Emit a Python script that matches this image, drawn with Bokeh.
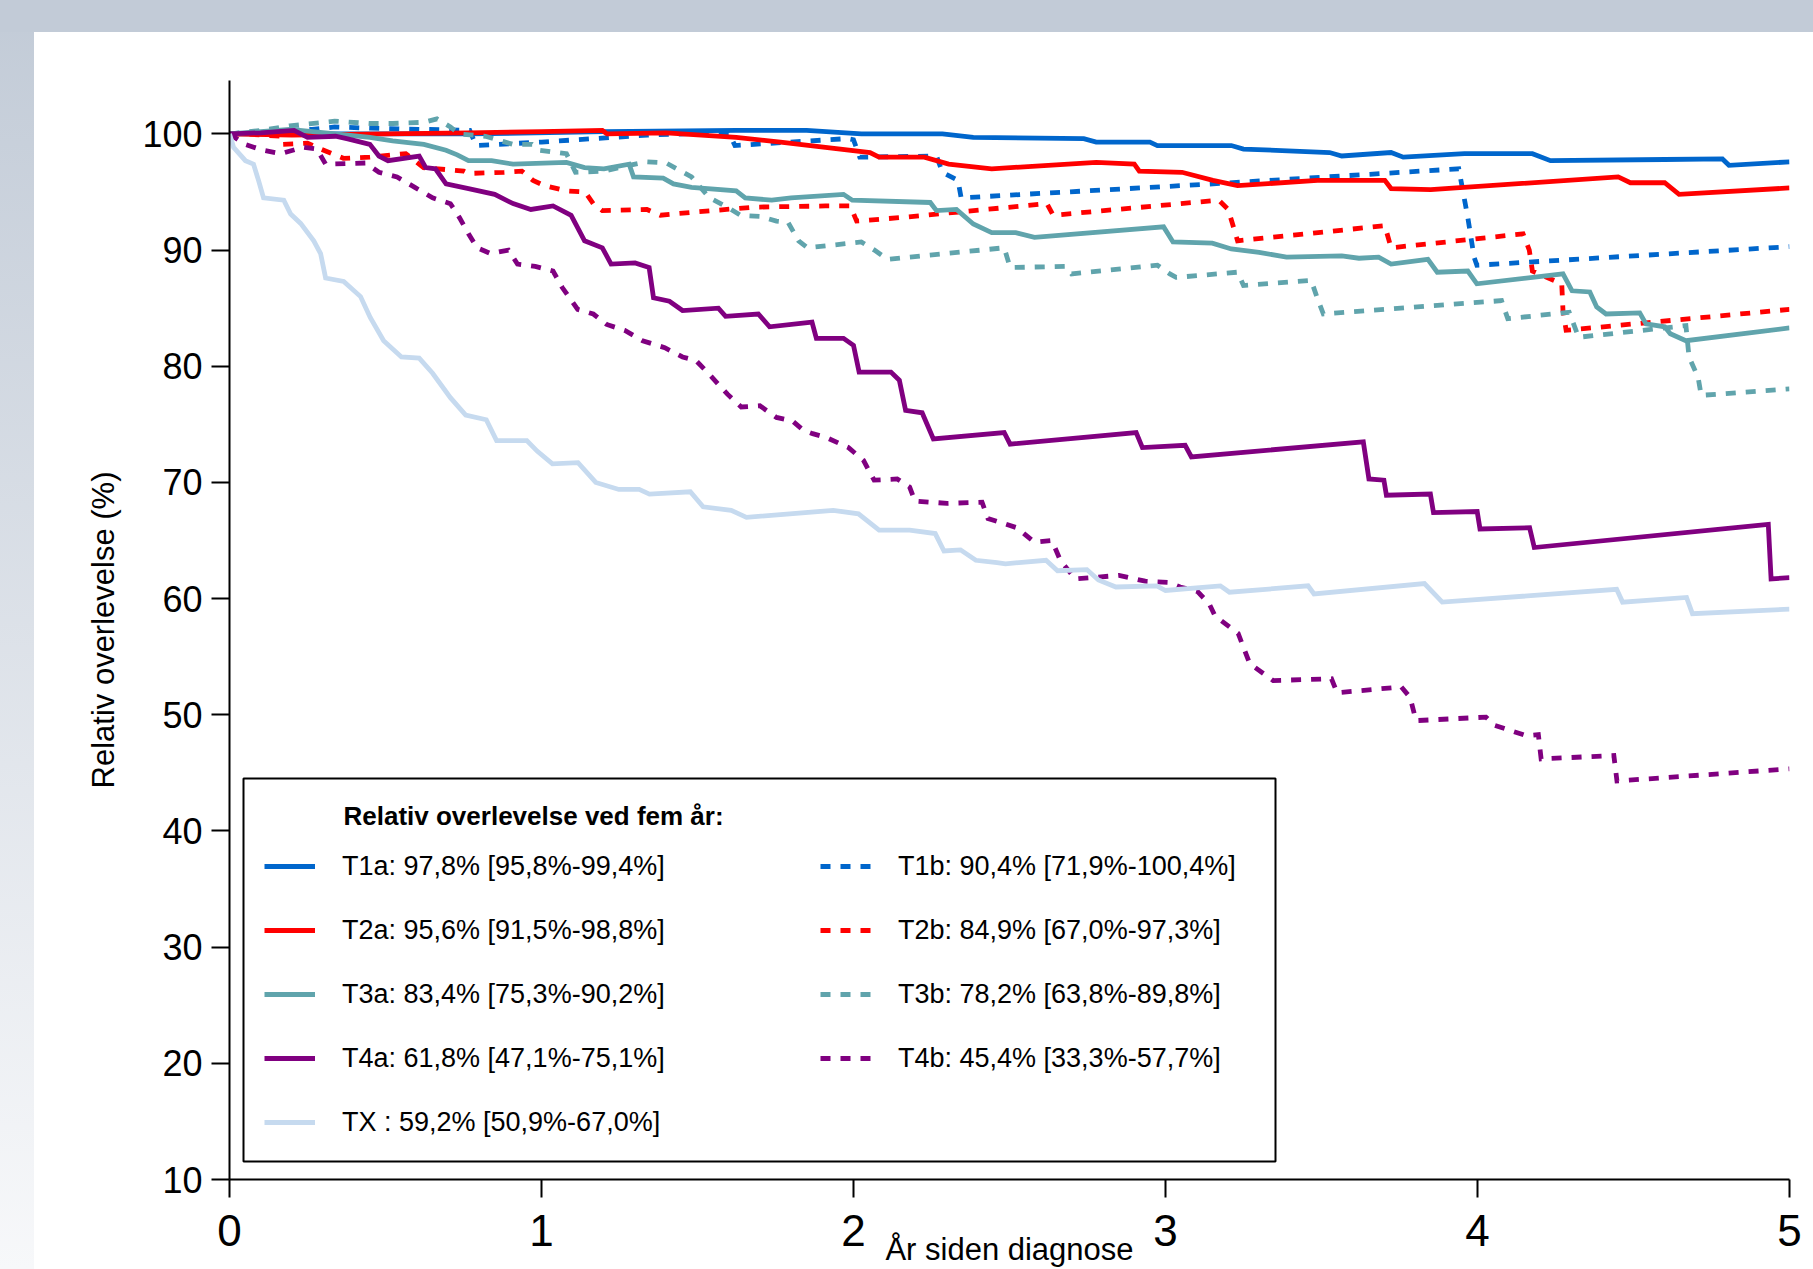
from bokeh.plotting import figure
from bokeh.models import Range1d, Legend, LegendItem, Label, BoxAnnotation, FixedTicker
from bokeh.embed import file_html
from bokeh.resources import INLINE
from bokeh.core.properties import value

# ---------------- data ----------------
x_ticks = [0, 1, 2, 3, 4, 5]
y_ticks = [10, 20, 30, 40, 50, 60, 70, 80, 90, 100]

legend_title = "Relativ overlevelse ved fem år:"
x_label = "År siden diagnose"
y_label = "Relativ overlevelse (%)"

labels = {
    "T1a": "T1a: 97,8% [95,8%-99,4%]",
    "T2a": "T2a: 95,6% [91,5%-98,8%]",
    "T3a": "T3a: 83,4% [75,3%-90,2%]",
    "T4a": "T4a: 61,8% [47,1%-75,1%]",
    "TX": "TX : 59,2% [50,9%-67,0%]",
    "T1b": "T1b: 90,4% [71,9%-100,4%]",
    "T2b": "T2b: 84,9% [67,0%-97,3%]",
    "T3b": "T3b: 78,2% [63,8%-89,8%]",
    "T4b": "T4b: 45,4% [33,3%-57,7%]",
}

t1a_x = [0, 0.77, 1.2, 1.624, 1.85, 2.025, 2.285, 2.384, 2.738, 2.778, 2.95, 2.974, 3.211, 3.25,
         3.526, 3.565, 3.723, 3.762, 3.958, 4.176, 4.234, 4.6, 4.785, 4.806, 5.0]
t1a_y = [100, 100.0, 100.2, 100.3, 100.3, 100.0, 100.0, 99.7, 99.6, 99.3, 99.3, 99.0, 99.0, 98.7,
         98.4, 98.1, 98.4, 98.0, 98.3, 98.3, 97.7, 97.8, 97.85, 97.3, 97.6]

t1b_x = [0, 0.1, 0.265, 0.337, 0.45, 0.77, 0.79, 1.0, 1.34, 1.55, 1.6, 1.62, 1.98, 2.0, 2.02,
         2.266, 2.285, 2.335, 2.345, 3.152, 3.94, 3.969, 3.989, 3.998, 5.0]
t1b_y = [100, 100.2, 100.4, 100.6, 100.5, 100.3, 99.0, 99.3, 99.9, 100.1, 100.1, 99.0, 99.6, 99.5, 98.0,
         98.1, 96.7, 96.0, 94.5, 95.7, 97.0, 92.8, 89.4, 88.7, 90.3]

t2a_x = [0, 0.2, 0.5, 0.766, 1.0, 1.195, 1.21, 1.4, 1.624, 1.766, 1.91, 2.053, 2.082, 2.227, 2.305,
         2.443, 2.778, 2.9, 2.916, 3.053, 3.152, 3.231, 3.487, 3.703, 3.723, 3.85, 4.451, 4.49,
         4.6, 4.646, 5.0]
t2a_y = [100, 99.9, 100.0, 100.1, 100.2, 100.3, 100.0, 100.1, 99.7, 99.3, 98.85, 98.4, 98.0, 98.0, 97.4,
         97.0, 97.55, 97.4, 96.8, 96.7, 96.0, 95.55, 96.0, 96.0, 95.3, 95.2, 96.3, 95.8,
         95.8, 94.8, 95.35]

t2b_x = [0, 0.05, 0.165, 0.172, 0.25, 0.279, 0.365, 0.45, 0.565, 0.622, 0.751, 0.766, 0.88, 0.937,
         0.973, 1.009, 1.08, 1.14, 1.166, 1.195, 1.338, 1.381, 1.481, 1.681, 1.91, 1.99, 2.01, 2.15,
         2.62, 2.64, 3.171, 3.201, 3.231, 3.703, 3.723, 4.146, 4.166, 4.176, 4.27, 4.274, 4.284, 5.0]
t2b_y = [100, 100.0, 99.8, 99.1, 99.2, 98.85, 97.9, 98.0, 98.3, 97.1, 96.8, 96.6, 96.7, 96.8,
         96.0, 95.55, 95.1, 95.0, 94.0, 93.4, 93.5, 93.0, 93.25, 93.7, 93.8, 93.8, 92.5, 92.8,
         94.0, 93.0, 94.3, 93.5, 90.8, 92.1, 90.2, 91.4, 90.0, 88.2, 87.1, 84.8, 83.1, 84.9]

t3a_x = [0, 0.1, 0.193, 0.34, 0.45, 0.523, 0.623, 0.694, 0.73, 0.766, 0.84, 0.909, 1.08, 1.138,
         1.2, 1.281, 1.295, 1.39, 1.423, 1.481, 1.624, 1.653, 1.738, 1.8, 1.968, 1.996, 2.246,
         2.266, 2.33, 2.384, 2.443, 2.52, 2.58, 2.994, 3.024, 3.15, 3.211, 3.3, 3.388, 3.565,
         3.62, 3.683, 3.723, 3.841, 3.871, 3.969, 3.998, 4.274, 4.303, 4.36, 4.382, 4.412, 4.52,
         4.54, 4.6, 4.618, 4.668, 5.0]
t3a_y = [100, 100.2, 100.4, 100.0, 99.7, 99.4, 99.1, 98.6, 98.2, 97.7, 97.7, 97.4, 97.55, 97.1,
         97.0, 97.4, 96.3, 96.2, 95.7, 95.4, 95.1, 94.5, 94.3, 94.5, 94.8, 94.3, 94.1,
         93.4, 93.5, 92.25, 91.5, 91.5, 91.1, 92.0, 90.7, 90.6, 90.1, 89.8, 89.4, 89.5,
         89.3, 89.4, 88.8, 89.2, 88.1, 88.2, 87.1, 87.95, 86.5, 86.4, 85.1, 84.5, 84.6,
         83.65, 83.4, 82.8, 82.2, 83.3]

t3b_x = [0, 0.1, 0.193, 0.337, 0.45, 0.523, 0.623, 0.665, 0.708, 0.737, 0.82, 0.909, 0.97, 0.994,
         1.08, 1.109, 1.2, 1.281, 1.337, 1.4, 1.481, 1.538, 1.596, 1.638, 1.7, 1.753, 1.79, 1.824,
         1.853, 2.025, 2.067, 2.109, 2.483, 2.502, 2.68, 2.699, 2.974, 3.014, 3.034, 3.231, 3.25,
         3.467, 3.486, 3.506, 4.077, 4.097, 4.294, 4.324, 4.668, 4.678, 4.707, 4.717, 5.0]
t3b_y = [100, 100.3, 100.7, 101.1, 100.9, 100.9, 101.0, 101.3, 100.6, 100.0, 99.8, 99.1, 99.1, 98.6,
         98.3, 96.7, 96.8, 97.3, 97.6, 97.5, 96.3, 94.5, 93.7, 93.0, 92.9, 92.5, 92.4, 90.8,
         90.2, 90.7, 90.0, 89.2, 90.2, 88.5, 88.6, 87.95, 88.7, 87.95, 87.65, 88.1, 86.95,
         87.4, 85.9, 84.5, 85.65, 84.1, 84.65, 82.5, 83.5, 80.8, 79.05, 77.5, 78.05]

t4a_x = [0, 0.1, 0.207, 0.25, 0.34, 0.379, 0.45, 0.479, 0.508, 0.608, 0.629, 0.66, 0.694, 0.766,
         0.85, 0.909, 0.966, 1.037, 1.095, 1.138, 1.195, 1.223, 1.3, 1.345, 1.359, 1.41, 1.452,
         1.567, 1.59, 1.695, 1.731, 1.867, 1.881, 1.968, 2.0, 2.018, 2.12, 2.147, 2.167, 2.22,
         2.256, 2.483, 2.502, 2.906, 2.926, 3.063, 3.083, 3.634, 3.652, 3.7, 3.708, 3.849, 3.859,
         3.999, 4.008, 4.167, 4.182, 4.932, 4.941, 5.0]
t4a_y = [100, 100.1, 100.3, 99.7, 99.8, 99.57, 99.1, 98.1, 97.7, 98.1, 97.1, 97.0, 95.7, 95.3,
         94.8, 94.0, 93.5, 93.8, 93.0, 90.8, 90.2, 88.8, 88.9, 88.5, 85.9, 85.6, 84.8,
         85.0, 84.3, 84.5, 83.4, 83.8, 82.4, 82.4, 81.8, 79.5, 79.5, 78.8, 76.2, 76.0,
         73.75, 74.3, 73.3, 74.3, 73.0, 73.2, 72.2, 73.5, 70.3, 70.2, 68.9, 69.0, 67.4,
         67.5, 66.0, 66.1, 64.4, 66.4, 61.7, 61.8]

t4b_x = [0, 0.05, 0.107, 0.165, 0.236, 0.28, 0.308, 0.437, 0.479, 0.537, 0.594, 0.651, 0.708,
         0.737, 0.766, 0.794, 0.837, 0.894, 0.923, 0.98, 1.037, 1.066, 1.116, 1.166, 1.209, 1.266,
         1.324, 1.395, 1.452, 1.495, 1.538, 1.596, 1.64, 1.7, 1.753, 1.804, 1.839, 1.869, 1.91,
         1.984, 2.032, 2.066, 2.14, 2.18, 2.197, 2.3, 2.412, 2.431, 2.524, 2.58, 2.636, 2.663,
         2.711, 2.851, 2.935, 3.01, 3.047, 3.103, 3.14, 3.159, 3.233, 3.27, 3.345, 3.532, 3.55,
         3.756, 3.784, 3.803, 4.027, 4.054, 4.157, 4.195, 4.204, 4.437, 4.447, 5.0]
t4b_y = [100, 99.1, 98.6, 98.3, 98.85, 98.7, 97.4, 97.5, 96.7, 96.3, 95.4, 94.5, 94.0,
         92.8, 91.4, 90.2, 89.7, 90.0, 88.8, 88.6, 88.2, 86.8, 84.9, 84.5, 83.6, 83.1,
         82.2, 81.6, 80.8, 80.5, 79.3, 77.6, 76.5, 76.6, 75.6, 75.3, 74.5, 74.2, 73.9,
         73.0, 71.9, 70.2, 70.3, 69.6, 68.4, 68.2, 68.3, 66.9, 66.1, 64.85, 65.0, 63.3,
         61.7, 62.0, 61.5, 61.4, 61.0, 60.6, 59.55, 58.5, 57.0, 54.4, 52.95, 53.1, 51.9,
         52.4, 51.5, 49.5, 49.8, 49.1, 48.2, 48.3, 46.2, 46.5, 44.3, 45.35]

tx_x = [0, 0.013, 0.051, 0.077, 0.093, 0.109, 0.174, 0.196, 0.228, 0.27, 0.292, 0.308, 0.366,
        0.42, 0.451, 0.494, 0.551, 0.608, 0.651, 0.708, 0.757, 0.823, 0.856, 0.953, 0.986, 1.035,
        1.117, 1.174, 1.248, 1.313, 1.346, 1.477, 1.518, 1.608, 1.657, 1.935, 2.016, 2.082, 2.18,
        2.262, 2.29, 2.343, 2.392, 2.46, 2.487, 2.617, 2.654, 2.748, 2.785, 2.841, 2.972, 3.0,
        3.176, 3.205, 3.457, 3.476, 3.83, 3.887, 4.446, 4.465, 4.67, 4.689, 5.0]
tx_y = [100, 98.85, 97.7, 97.4, 96.0, 94.5, 94.3, 93.1, 92.3, 90.8, 89.7, 87.6, 87.3,
        86.0, 84.2, 82.2, 80.8, 80.7, 79.4, 77.3, 75.8, 75.4, 73.6, 73.6, 72.7, 71.6,
        71.7, 70.0, 69.4, 69.4, 69.0, 69.2, 67.9, 67.6, 67.0, 67.6, 67.3, 65.9, 65.9,
        65.6, 64.1, 64.2, 63.3, 63.1, 63.0, 63.3, 62.4, 62.5, 61.6, 61.0, 61.1, 60.7,
        61.1, 60.55, 61.1, 60.4, 61.3, 59.7, 60.8, 59.7, 60.1, 58.7, 59.1]

# ---------------- styling ----------------
FONT = "Liberation Sans"
X0, X1 = 0, 5
Y0, Y1 = 10, 104.6
FRAME_L, FRAME_B, FRAME_W, FRAME_H = 229, 1179, 1560, 1099

colors = {
    "T1": "#0066CC", "T2": "#FF0000", "T3": "#60A4AC", "T4": "#800080", "TX": "#C6DAEF",
}
LW = 4.8
DASH = "10 10"

p = figure(width=1813, height=1269, output_backend="svg", toolbar_location=None,
           x_range=Range1d(X0, X1), y_range=Range1d(Y0, Y1),
           min_border_left=229, min_border_right=24, min_border_top=80, min_border_bottom=90,
           background_fill_color="white", border_fill_color=None, outline_line_color=None)
p.styles = {"background": "linear-gradient(#c2cbd7, #c2cbd7) 0 0 / 100% 32px no-repeat, "
                          "linear-gradient(#c2cbd7, #f7f8fa) 0 0 / 34px 100% no-repeat, #ffffff"}

p.xgrid.visible = False
p.ygrid.visible = False
p.xaxis.ticker = FixedTicker(ticks=x_ticks)
p.yaxis.ticker = FixedTicker(ticks=y_ticks)
for ax in (p.xaxis[0], p.yaxis[0]):
    ax.axis_line_width = 2
    ax.axis_line_color = "black"
    ax.major_tick_line_width = 2
    ax.major_tick_line_color = "black"
    ax.major_tick_out = 18
    ax.major_tick_in = 0
    ax.minor_tick_out = 0
    ax.minor_tick_in = 0
    ax.major_label_text_font = FONT
    ax.major_label_text_color = "black"
p.xaxis.major_label_text_font_size = "44px"
p.xaxis.major_label_standoff = 17
p.xaxis.axis_label = x_label
p.xaxis.axis_label_text_font = FONT
p.xaxis.axis_label_text_font_size = "31px"
p.xaxis.axis_label_text_font_style = "normal"
p.xaxis.axis_label_text_color = "black"
p.xaxis.axis_label_standoff = -17
p.yaxis.major_label_text_font_size = "36px"
p.yaxis.major_label_standoff = 9
p.yaxis.axis_label = y_label
p.yaxis.axis_label_text_font = FONT
p.yaxis.axis_label_text_font_size = "31px"
p.yaxis.axis_label_text_font_style = "normal"
p.yaxis.axis_label_text_color = "black"
p.yaxis.axis_label_standoff = 18

series = [
    ("T1a", t1a_x, t1a_y, colors["T1"], "solid"),
    ("T1b", t1b_x, t1b_y, colors["T1"], DASH),
    ("T2a", t2a_x, t2a_y, colors["T2"], "solid"),
    ("T2b", t2b_x, t2b_y, colors["T2"], DASH),
    ("T3a", t3a_x, t3a_y, colors["T3"], "solid"),
    ("T3b", t3b_x, t3b_y, colors["T3"], DASH),
    ("T4a", t4a_x, t4a_y, colors["T4"], "solid"),
    ("T4b", t4b_x, t4b_y, colors["T4"], DASH),
    ("TX", tx_x, tx_y, colors["TX"], "solid"),
]
rend = {}
for key, xs, ys, col, dash in series:
    rend[key] = p.line(xs, ys, line_color=col, line_width=LW, line_dash=dash, line_join="miter")

# legend box (page pixel positions converted to data space)
def to_dx(px):
    return X0 + (px - FRAME_L) / FRAME_W * (X1 - X0)

def to_dy(py):
    return Y0 + (FRAME_B - py) / FRAME_H * (Y1 - Y0)

p.add_layout(BoxAnnotation(left=to_dx(243), right=to_dx(1275), top=to_dy(778), bottom=to_dy(1161),
                           fill_color="white", fill_alpha=1.0, line_color="black", line_width=2,
                           line_alpha=1.0))

common = dict(orientation="vertical", glyph_width=51, glyph_height=54, label_height=54,
              label_width=10, label_standoff=27, spacing=10, padding=0, margin=0,
              border_line_color=None, background_fill_alpha=0,
              label_text_font=FONT, label_text_font_size="27px", label_text_color="black")
leg1 = Legend(items=[LegendItem(label=value(labels[k]), renderers=[rend[k]])
                     for k in ["T1a", "T2a", "T3a", "T4a", "TX"]],
              location=(35, 30), **common)
leg2 = Legend(items=[LegendItem(label=value(labels[k]), renderers=[rend[k]])
                     for k in ["T1b", "T2b", "T3b", "T4b"]],
              location=(591, 94), **common)
p.add_layout(leg1)
p.add_layout(leg2)

p.add_layout(Label(x=114, y=FRAME_B - 815, x_units="screen", y_units="screen", text=legend_title,
                   text_font=FONT, text_font_size="26px", text_font_style="bold",
                   text_baseline="middle", text_align="left", text_color="black"))

open("out.html", "w").write(file_html(p, INLINE))
